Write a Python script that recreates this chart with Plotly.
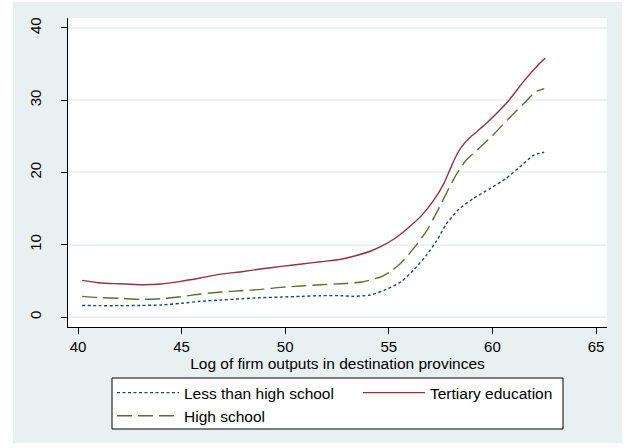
import plotly.graph_objects as go

# Smoothed curves by education level, plotted against log firm output
x_less = [40.2, 41.0, 42.0, 43.0, 44.0, 45.0, 45.9, 46.9, 47.9, 48.8, 49.8, 50.8, 51.7, 52.7, 53.3,
          54.1, 54.85, 55.6, 56.2, 56.8, 57.3, 57.76, 58.34, 59.1, 59.9, 60.67, 61.45, 62.0, 62.5]
y_less = [1.6, 1.57, 1.57, 1.6, 1.66, 1.9, 2.17, 2.35, 2.53, 2.67, 2.76, 2.86, 2.95, 2.95, 2.86,
          3.04, 3.78, 4.9, 6.5, 8.5, 10.5, 12.8, 14.8, 16.45, 17.8, 19.2, 21.1, 22.4, 22.8]

x_high = [40.2, 41.07, 42.04, 43.0, 43.98, 44.95, 45.92, 46.9, 47.86, 48.83, 49.8, 50.77, 51.74,
          52.7, 53.7, 54.65, 55.04, 55.6, 56.2, 56.8, 57.37, 57.95, 58.3, 58.7, 59.3, 60.1, 60.8,
          61.5, 62.1, 62.5]
y_high = [2.86, 2.67, 2.58, 2.44, 2.53, 2.81, 3.18, 3.46, 3.64, 3.82, 4.1, 4.29, 4.47,
          4.61, 4.84, 5.6, 6.2, 7.5, 9.5, 11.8, 14.8, 18.1, 19.9, 21.6, 23.2, 25.4, 27.5,
          29.5, 31.2, 31.6]

x_tert = [40.2, 41.1, 42.0, 43.0, 44.0, 44.95, 45.9, 46.9, 47.9, 48.8, 49.8, 50.8, 51.7, 52.7,
          53.3, 54.1, 54.65, 55.3, 56.0, 56.6, 57.18, 57.66, 57.95, 58.2, 58.5, 58.9, 59.35,
          60.1, 60.8, 61.48, 62.27, 62.55]
y_tert = [5.07, 4.7, 4.6, 4.47, 4.56, 4.93, 5.4, 5.94, 6.27, 6.64, 7.0, 7.33, 7.65, 8.0,
          8.4, 9.1, 9.8, 10.9, 12.5, 14.1, 16.2, 18.5, 20.4, 22.0, 23.5, 24.8, 25.9,
          27.9, 30.0, 32.5, 35.07, 35.85]

series_names = ["Less than high school", "Tertiary education", "High school"]

x_ticks = [40, 45, 50, 55, 60, 65]
y_ticks = [0, 10, 20, 30, 40]

FONT = "Liberation Sans, Arial, sans-serif"
BG = "#E8F0F2"

fig = go.Figure()
fig.add_trace(go.Scatter(x=x_less, y=y_less, mode="lines", name=series_names[0],
                         line=dict(color="#1A476F", width=1.4, dash="3px,2.5px",
                                   shape="spline", smoothing=0.6)))
fig.add_trace(go.Scatter(x=x_tert, y=y_tert, mode="lines", name=series_names[1],
                         line=dict(color="#90353B", width=1.4,
                                   shape="spline", smoothing=0.6)))
fig.add_trace(go.Scatter(x=x_high, y=y_high, mode="lines", name=series_names[2],
                         line=dict(color="#55752F", width=1.4, dash="15px,6px",
                                   shape="spline", smoothing=0.6)))

# plot region spans pixels x 68..607, y 18..327 of a 630x448 page
L, R, T, B = 68, 23, 18, 121
W, H = 630 - L - R, 448 - T - B


def px(xp):
    return (xp - L) / W


def py(yp):
    return (448 - B - yp) / H


white_strip = dict(type="rect", xref="paper", yref="paper", layer="below",
                   fillcolor="white", line=dict(width=0))
shapes = [
    # thin white border around the tinted frame
    dict(white_strip, x0=px(0), x1=px(13), y0=py(448), y1=py(0)),
    dict(white_strip, x0=px(622), x1=px(630), y0=py(448), y1=py(0)),
    dict(white_strip, x0=px(0), x1=px(630), y0=py(2), y1=py(0)),
    dict(white_strip, x0=px(0), x1=px(630), y0=py(448), y1=py(443)),
    # legend box
    dict(type="rect", xref="paper", yref="paper", layer="below",
         x0=px(112), x1=px(563), y0=py(429), y1=py(378),
         fillcolor="white", line=dict(color="black", width=1)),
]

fig.update_layout(
    width=630, height=448,
    margin=dict(l=L, r=R, t=T, b=B, pad=0),
    paper_bgcolor=BG,
    plot_bgcolor="white",
    font=dict(family=FONT, size=15, color="black"),
    shapes=shapes,
    showlegend=True,
    legend=dict(
        orientation="h",
        x=px(112), xanchor="left",
        y=py(376), yanchor="top",
        bgcolor="rgba(0,0,0,0)",
        borderwidth=0,
        itemwidth=62,
        entrywidth=169,
        font=dict(family=FONT, size=15.5, color="black"),
        traceorder="normal",
    ),
)

fig.update_xaxes(
    range=[39.517, 65.53],
    tickvals=x_ticks, ticktext=[str(v) for v in x_ticks],
    showgrid=False, zeroline=False,
    showline=True, linecolor="black", linewidth=1,
    ticks="outside", ticklen=6, tickcolor="black", tickwidth=1,
    tickfont=dict(family=FONT, size=15),
    title=dict(text="Log of firm outputs in destination provinces",
               font=dict(family=FONT, size=15.5), standoff=0),
)
fig.update_yaxes(
    range=[-1.384, 41.38],
    tickvals=y_ticks, ticktext=[str(v) for v in y_ticks],
    showgrid=True, gridcolor="#EAF2F3", gridwidth=1.5,
    zeroline=False,
    showline=True, linecolor="black", linewidth=1,
    ticks="outside", ticklen=6, tickcolor="black", tickwidth=1,
    tickangle=-90,
    tickfont=dict(family=FONT, size=15),
    ticklabelstandoff=14,
)

fig.write_html("out.html")
